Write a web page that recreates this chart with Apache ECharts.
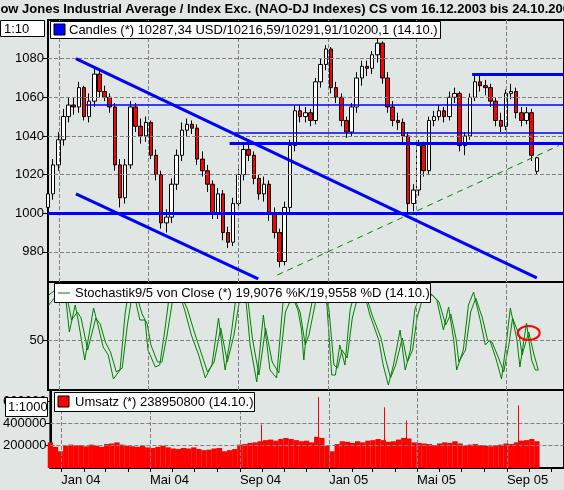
<!DOCTYPE html>
<html><head><meta charset="utf-8">
<script src="https://cdn.jsdelivr.net/npm/echarts@6/dist/echarts.min.js"></script>
<style>html,body{margin:0;padding:0;background:#dfe6e4}#c{width:564px;height:490px}</style>
</head><body><div id="c"></div>
<script>
// ---- data (index values in 1:10 units, volume in 1:1000 units) ----
const weekStartOffset = -15; // first week, days from 2004-01-01
const opens = [1003,1010,1025,1038,1050,1056,1055,1065,1050,1058,1072,1063,1060,1055,1025,1008,1025,1055,1045,1040,1047,1030,1020,995,998,1015,1030,1043,1046,1044,1028,1022,1015,1000,1010,990,985,1005,1020,1033,1030,1018,1010,1015,1000,990,975,1003,1035,1053,1050,1052,1048,1068,1077,1085,1065,1060,1048,1042,1055,1070,1076,1075,1082,1088,1070,1055,1048,1047,1040,1005,1012,1035,1022,1048,1050,1053,1050,1060,1062,1035,1040,1060,1068,1066,1065,1058,1048,1045,1062,1063,1052,1048,1052,1021.7];
const closes = [1010,1025,1038,1050,1056,1055,1065,1050,1058,1072,1063,1060,1055,1025,1008,1025,1055,1045,1040,1047,1030,1020,995,998,1015,1030,1043,1046,1044,1028,1022,1015,1000,1010,990,985,1005,1020,1033,1030,1018,1010,1015,1000,990,975,1003,1035,1053,1050,1052,1048,1068,1077,1085,1065,1060,1048,1042,1055,1070,1076,1075,1082,1088,1070,1055,1048,1047,1040,1005,1012,1035,1022,1048,1050,1053,1050,1060,1062,1035,1040,1060,1068,1066,1065,1058,1048,1045,1062,1063,1052,1048,1052,1030,1028.7];
const highs = [1014,1028,1042,1054,1060,1060,1068,1066,1062,1075,1074,1066,1062,1057,1028,1028,1058,1057,1049,1050,1048,1033,1022,1002,1018,1033,1047,1049,1048,1046,1032,1025,1017,1013,1012,993,1008,1023,1036,1036,1032,1020,1019,1017,1003,992,1006,1038,1056,1056,1055,1054,1070,1080,1087,1086,1068,1062,1050,1057,1073,1079,1079,1084,1091,1089,1073,1058,1052,1049,1042,1015,1038,1037,1050,1053,1056,1055,1063,1065,1063,1042,1062,1071,1071,1069,1067,1060,1052,1064,1067,1065,1055,1055,1054,1029.2];
const lows = [1000,1007,1022,1035,1047,1051,1052,1048,1047,1055,1060,1058,1052,1022,1003,1005,1023,1042,1036,1037,1028,1017,992,990,995,1012,1027,1040,1041,1025,1019,1011,997,997,986,982,983,1002,1017,1027,1015,1007,1006,996,987,972,973,1000,1032,1047,1047,1045,1046,1065,1074,1062,1057,1045,1039,1040,1052,1066,1071,1072,1078,1067,1052,1045,1043,1036,1000,1001,1009,1019,1020,1045,1048,1047,1048,1057,1032,1030,1038,1058,1063,1061,1055,1045,1042,1043,1059,1049,1045,1046,1027,1020];
const volumes = [230000,190000,150000,200000,210000,200000,205000,195000,210000,200000,190000,215000,220000,230000,210000,200000,195000,190000,200000,185000,180000,190000,200000,185000,175000,170000,180000,175000,185000,170000,160000,165000,175000,180000,150000,160000,170000,210000,215000,225000,230000,240000,250000,255000,245000,260000,270000,260000,250000,240000,245000,230000,280000,270000,200000,150000,215000,240000,235000,225000,240000,230000,245000,250000,260000,250000,235000,240000,255000,270000,265000,230000,225000,220000,215000,205000,220000,230000,225000,240000,220000,200000,210000,215000,205000,200000,195000,205000,210000,220000,215000,230000,245000,250000,260000,240000];
const volumeSpikes = [[273,390000],[351,636000],[442,545000],[471,427000],[624,563000]];
const stochK = [[-14,95],[-5,100],[8,100],[14,58],[22,85],[26,70],[35,30],[47,82],[53,65],[60,43],[67,35],[74,11],[83,20],[90,77],[94,95],[101,100],[110,70],[117,70],[121,40],[131,23],[137,25],[144,60],[151,100],[162,100],[171,80],[180,55],[190,35],[199,12],[208,25],[217,72],[226,20],[235,60],[242,100],[253,100],[260,45],[269,8],[278,75],[287,20],[296,12],[305,90],[314,100],[325,80],[330,60],[333,30],[337,60],[346,95],[355,100],[364,90],[371,15],[376,15],[382,45],[389,25],[396,80],[403,100],[414,100],[423,75],[435,50],[441,25],[448,5],[455,25],[464,60],[471,20],[478,40],[484,80],[493,100],[505,97],[514,90],[523,60],[530,83],[537,50],[541,20],[550,40],[557,85],[564,98],[573,70],[580,45],[586,50],[595,30],[602,11],[609,50],[614,82],[623,50],[627,23],[636,67],[643,30],[648,20],[652,19.9]];
const stochD = [[-14,85],[-3,95],[10,96],[17,70],[25,78],[30,72],[39,40],[50,72],[56,66],[63,48],[70,38],[78,18],[86,22],[93,65],[98,88],[105,96],[113,76],[120,66],[125,45],[134,28],[140,28],[147,55],[155,92],[166,96],[175,80],[184,58],[193,38],[202,18],[211,28],[220,62],[229,28],[238,55],[246,92],[256,96],[263,52],[272,15],[281,62],[290,28],[299,17],[308,78],[318,95],[328,78],[335,45],[340,55],[349,88],[358,97],[367,82],[374,25],[379,22],[385,40],[392,32],[399,72],[407,95],[417,96],[426,75],[438,52],[444,32],[451,12],[458,25],[467,52],[474,28],[481,40],[487,72],[496,95],[508,95],[517,88],[526,65],[533,76],[540,52],[544,28],[553,40],[560,78],[567,92],[576,72],[583,50],[589,48],[598,32],[605,18],[612,45],[617,72],[626,55],[630,35],[639,58],[646,36],[652,19.96]];
// trend lines: [dayOffset, value]
const hLines = [[ [-15,1000],3 ], [[36,1056],1.5], [[239,1041.5],1.5], [[232,1036],3], [[562,1072],3]];
const channelUpper = [[23,1080],[650,966.5]];
const channelLower = [[23,1010],[271,966]];
const greenTrend = [[297,968],[680,1035]];
const priceTicks = [980,1000,1020,1040,1060,1080];
const stochTicks = [50];
const volTicks = [200000,400000,600000];
const monthNames = ['Jan','Feb','Mär','Apr','Mai','Jun','Jul','Aug','Sep','Okt','Nov','Dez'];

const DAY = 864e5, BASE = Date.UTC(2004,0,1);
const t = d => BASE + d*DAY;
const xMin = t(-15), xMax = t(687);
const candles = opens.map((o,i)=>[t(weekStartOffset+7*i), o, closes[i], lows[i], highs[i]]);
const vols = volumes.map((v,i)=>[t(weekStartOffset+7*i), v]);
const labelMonths = [], allMonths = [];
for (let y=2004;y<=2005;y++) for (let m=0;m<12;m++){ const v=Date.UTC(y,m,1); if(v<xMax){allMonths.push(v); if(m%4===0) labelMonths.push(v);} }

const gridStyle = {type:'dashed', dashOffset:0, color:'#808080', width:1};
function gridItems(hvals, ymin, ymax){
  return labelMonths.map(v=>[{coord:[v,ymin],lineStyle:gridStyle},{coord:[v,ymax]}])
    .concat(hvals.map(v=>[{coord:[xMin,v],lineStyle:gridStyle},{coord:[xMax,v]}]));
}

const chart = echarts.init(document.getElementById('c'), null, {renderer:'canvas'});
const grids = [
  {left:48,right:0,top:20,height:262},
  {left:48,right:0,top:282,height:108},
  {left:48,right:0,top:390,height:78}
].map(g=>Object.assign(g,{show:true,backgroundColor:'#dfe6e4',borderColor:'#000',borderWidth:2}));
const xa = i => ({type:'value', gridIndex:i, min:xMin, max:xMax, axisLine:{show:i===2,onZero:false,lineStyle:{color:'#000',width:2}},
  axisTick:{show:i===2, customValues:allMonths, length:4, lineStyle:{color:'#000'}},
  axisLabel:{show:i===2, customValues:labelMonths, align:'left', margin:6, color:'#000', fontFamily:'Liberation Sans', fontSize:13,
     formatter:v=>{const d=new Date(v);return monthNames[d.getUTCMonth()]+' '+String(d.getUTCFullYear()).slice(2);}},
  splitLine:{show:false}});
const ya = (i,min,max,ticks) => ({type:'value', gridIndex:i, min, max, axisLine:{show:true,lineStyle:{color:'#000',width:2}},
  axisTick:{show:true, customValues:ticks, length:5, lineStyle:{color:'#000'}},
  axisLabel:{customValues:ticks, color:'#000', fontFamily:'Liberation Sans', fontSize:13, margin:4, formatter:v=>String(v)},
  splitLine:{show:false}});
const seg = (p,color,width,type) => [{coord:[t(p[0][0]),p[0][1]], lineStyle:{color,width,type}},{coord:[t(p[1][0]),p[1][1]]}];

const priceMarks = [
  ...gridItems(priceTicks,964.4,1100),
  ...hLines.map(h=>seg([h[0],[687,h[0][1]]],'#0000ff',h[1],'solid')),
  seg(channelUpper,'#0000ff',3,'solid'),
  seg(channelLower,'#0000ff',3,'solid'),
  seg(greenTrend,'#008000',1,[6,5])
];
const mk = data => ({silent:true,symbol:'none',label:{show:false},animation:false,data});

chart.setOption({
  animation:false,
  backgroundColor:'#dfe6e4',
  grid:grids,
  xAxis:[xa(0),xa(1),xa(2)],
  yAxis:[ya(0,964.4,1100,priceTicks), ya(1,0,108,stochTicks), ya(2,0,700000,volTicks)],
  series:[
    {type:'candlestick',xAxisIndex:0,yAxisIndex:0,data:candles,barWidth:4,z:3,
      itemStyle:{color:'#ffffff',color0:'#ff0000',borderColor:'#000',borderColor0:'#000',borderWidth:1},
      markLine:mk(priceMarks)},
    {type:'line',xAxisIndex:1,yAxisIndex:1,data:stochK.map(p=>[t(p[0]),p[1]]),showSymbol:false,lineStyle:{color:'#008000',width:1},z:3,
      markLine:mk(gridItems(stochTicks,0,108))},
    {type:'line',xAxisIndex:1,yAxisIndex:1,data:stochD.map(p=>[t(p[0]),p[1]]),showSymbol:false,lineStyle:{color:'#008000',width:1},z:3},
    {type:'bar',xAxisIndex:2,yAxisIndex:2,data:vols,barWidth:5.3,itemStyle:{color:'#ff0000'},z:3,
      markLine:mk(gridItems([200000,400000],0,700000).concat(
        volumeSpikes.map(s=>[{coord:[t(s[0]),0],lineStyle:{color:'#ff0000',width:1,type:'solid'}},{coord:[t(s[0]),s[1]]}])))}
  ]
});

const F = 'Liberation Sans';
function box(x,y,w,h){return {type:'rect',shape:{x,y,width:w,height:h},style:{fill:'#fff',stroke:'#000',lineWidth:1},z:100};}
function txt(x,y,s){return {type:'text',x,y,style:{text:s,font:'13px '+F,fill:'#000',textVerticalAlign:'middle'},z:101};}
const ell = chart.convertToPixel({xAxisIndex:1,yAxisIndex:1},[t(639),57]);
chart.setOption({graphic:[
  {type:'text',x:-9,y:9,style:{text:'Dow Jones Industrial Average / Index Exc. (NAO-DJ Indexes) CS vom 16.12.2003 bis 24.10.2005',font:'bold 13px '+F,fill:'#000',textVerticalAlign:'middle'},z:101},
  box(0.5,20.5,44,16), txt(4,29,'1:10'),
  box(50.5,21.5,390,17),
  {type:'rect',shape:{x:54,y:24,width:11,height:11},style:{fill:'#0000ff',stroke:'#000',lineWidth:1},z:101},
  txt(69,30,'Candles (*) 10287,34 USD/10216,59/10291,91/10200,1 (14.10.)'),
  box(54.5,283.5,376,19),
  {type:'line',shape:{x1:58,y1:293,x2:70,y2:293},style:{stroke:'#008000',lineWidth:1},z:101},
  txt(75,293,'Stochastik9/5 von Close (*) 19,9076 %K/19,9558 %D (14.10.)'),
  box(5.5,397.5,42,19), txt(8,407,'1:1000'),
  box(54.5,392.5,200,19),
  {type:'rect',shape:{x:58,y:396,width:11,height:11},style:{fill:'#ff0000',stroke:'#000',lineWidth:1},z:101},
  txt(75,402,'Umsatz (*) 238950800 (14.10.)'),
  {type:'ellipse',shape:{cx:ell[0],cy:ell[1],rx:11,ry:7},style:{fill:'none',stroke:'#ff0000',lineWidth:2},z:101}
]});
</script></body></html>
